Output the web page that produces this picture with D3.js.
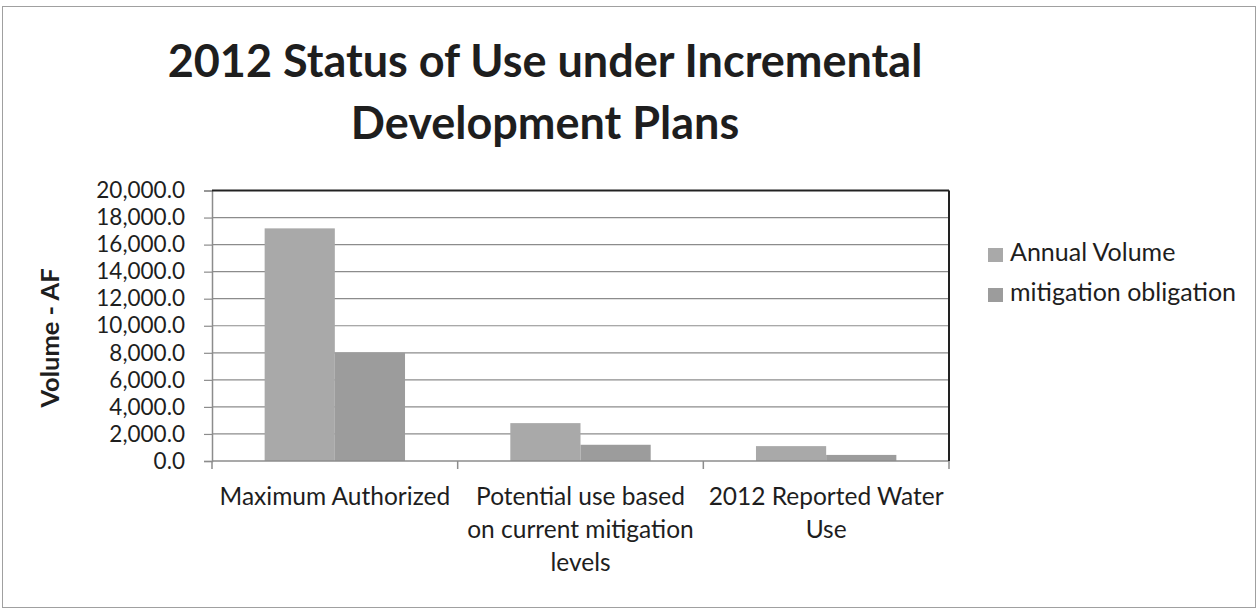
<!DOCTYPE html>
<html>
<head>
<meta charset="utf-8">
<script src="https://cdn.jsdelivr.net/npm/d3@7/dist/d3.min.js"></script>
<style>
  html, body { margin: 0; padding: 0; background: #fff; }
  svg { display: block; }
  text { font-family: Lato, "Open Sans", sans-serif; fill: #1e1e1e; }
</style>
</head>
<body>
<svg id="chart" width="1259" height="612"></svg>
<script>
const categories = [
  ["Maximum Authorized"],
  ["Potential use based", "on current mitigation", "levels"],
  ["2012 Reported Water", "Use"]
];
const categoryKeys = ["Maximum Authorized", "Potential use based on current mitigation levels", "2012 Reported Water Use"];
const seriesNames = ["Annual Volume", "mitigation obligation"];
const annualVolume = [17200, 2800, 1100];
const mitigationObligation = [8000, 1200, 450];
const yTicks = [0, 2000, 4000, 6000, 8000, 10000, 12000, 14000, 16000, 18000, 20000];
const titleLines = ["2012 Status of Use under Incremental", "Development Plans"];
const yTitle = "Volume - AF";

const colors = ["#a9a9a9", "#9c9c9c"];

const svg = d3.select("#chart");
const plot = { left: 212, right: 949, top: 190.5, bottom: 461 };

// outer border
svg.append("rect").attr("x", 2.5).attr("y", 6.5).attr("width", 1253).attr("height", 601)
  .attr("fill", "none").attr("stroke", "#a0a0a0").attr("stroke-width", 1);

// title
const title = svg.append("text").attr("text-anchor", "middle")
  .attr("font-weight", "bold").attr("font-size", 45);
titleLines.forEach((t, i) => {
  title.append("tspan").attr("x", 545).attr("y", 77 + i * 62).text(t);
});

const y = d3.scaleLinear().domain([0, 20000]).range([plot.bottom, plot.top]);
const x = d3.scaleBand().domain(categoryKeys).range([plot.left, plot.right])
  .paddingInner(1.5 / 3.5).paddingOuter(0.75 / 3.5);
const x1 = d3.scaleBand().domain(seriesNames).range([0, x.bandwidth()]).padding(0);

// gridlines
svg.append("g").selectAll("line").data(yTicks.filter(d => d > 0)).join("line")
  .attr("x1", plot.left).attr("x2", plot.right)
  .attr("y1", d => y(d)).attr("y2", d => y(d))
  .attr("stroke", "#8c8c8c").attr("stroke-width", 1.2);

// y axis
const yAxis = d3.axisLeft(y).tickValues(yTicks).tickSize(8).tickPadding(19)
  .tickFormat(d => d3.format(",.1f")(d));
const gy = svg.append("g").attr("transform", `translate(${plot.left},0)`).call(yAxis);
gy.select(".domain").attr("stroke", "#8c8c8c").attr("stroke-width", 1.5);
gy.selectAll(".tick line").attr("stroke", "#8c8c8c").attr("stroke-width", 1.2);
gy.selectAll(".tick text").attr("font-size", 22.5).attr("fill", "#1e1e1e")
  .attr("font-family", "Lato, 'Open Sans', sans-serif");

// bars
const data = categoryKeys.map((k, i) => ({ key: k, values: [annualVolume[i], mitigationObligation[i]] }));
const groups = svg.append("g").selectAll("g").data(data).join("g")
  .attr("transform", d => `translate(${x(d.key)},0)`);
groups.selectAll("rect").data(d => d.values.map((v, j) => ({ s: seriesNames[j], v, j })))
  .join("rect")
  .attr("x", d => x1(d.s)).attr("width", x1.bandwidth())
  .attr("y", d => y(d.v)).attr("height", d => y(0) - y(d.v))
  .attr("fill", d => colors[d.j]);

// x axis baseline
svg.append("line").attr("x1", plot.left).attr("x2", plot.right)
  .attr("y1", y(0)).attr("y2", y(0)).attr("stroke", "#8c8c8c").attr("stroke-width", 1.5);
// category boundary ticks
const half = (x.step() - x.bandwidth()) / 2;
const bounds = categoryKeys.map(k => x(k) - half).concat([x(categoryKeys[2]) - half + x.step()]);
svg.append("g").selectAll("line").data(bounds).join("line")
  .attr("x1", d => d).attr("x2", d => d)
  .attr("y1", y(0)).attr("y2", y(0) + 8)
  .attr("stroke", "#8c8c8c").attr("stroke-width", 1.5);

// plot area top and right border (dark)
svg.append("line").attr("x1", plot.left).attr("x2", plot.right)
  .attr("y1", plot.top).attr("y2", plot.top).attr("stroke", "#222").attr("stroke-width", 2);
svg.append("line").attr("x1", plot.right).attr("x2", plot.right)
  .attr("y1", plot.top).attr("y2", y(0)).attr("stroke", "#222").attr("stroke-width", 2);

// category labels
categoryKeys.forEach((k, i) => {
  const t = svg.append("text").attr("text-anchor", "middle").attr("font-size", 24.5);
  categories[i].forEach((line, j) => {
    t.append("tspan").attr("x", x(k) + x.bandwidth() / 2).attr("y", 505 + j * 33).text(line);
  });
});

// y title
svg.append("text").attr("transform", `translate(59,338) rotate(-90)`)
  .attr("text-anchor", "middle").attr("font-weight", "bold").attr("font-size", 25.5)
  .text(yTitle);

// legend
const leg = svg.append("g").selectAll("g").data(seriesNames).join("g")
  .attr("transform", (d, i) => `translate(988,${248 + i * 40})`);
leg.append("rect").attr("width", 15).attr("height", 14).attr("fill", (d, i) => colors[i]);
leg.append("text").attr("x", 22).attr("y", 13).attr("font-size", 25).text(d => d);
</script>
</body>
</html>
